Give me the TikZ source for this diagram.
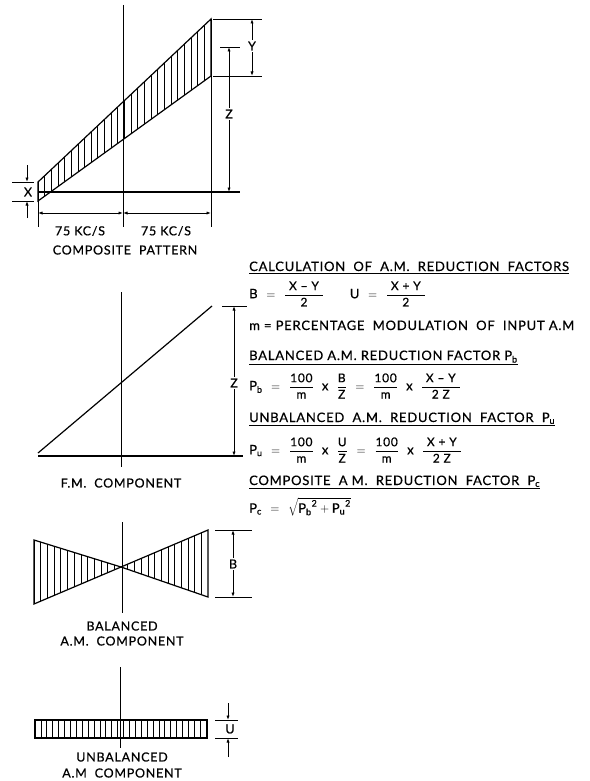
\documentclass[tikz,border=0pt]{standalone}
\usepackage{fontspec}
\setmainfont{Lato}[LetterSpace=6,FakeBold=0.6]
\usetikzlibrary{arrows.meta}
\newcommand\mytx[1]{\mbox{#1}}
\newcommand\myfr[1]{\mbox{\fontsize{12}{13}\selectfont #1}}
\newcommand\mysub[1]{\mbox{\fontsize{9}{10}\selectfont #1}}
\newcommand\myeq{\;\,=\;\,}
\newcommand\myx{\mytx{\ \ x\ \ }}
\begin{document}
\begin{tikzpicture}[x=1pt,y=-1pt,
  ln/.style={line width=1.2pt},
  hatch/.style={line width=0.75pt},
  dim/.style={line width=0.9pt},
  dimarr/.style={dim,{Latex[length=4.5pt,width=3.2pt]}-{Latex[length=4.5pt,width=3.2pt]}},
  endarr/.style={dim,-{Latex[length=4.5pt,width=3.2pt]}},
  lbl/.style={font=\fontsize{12.5}{14}\selectfont, inner sep=0.5pt},
  lblw/.style={lbl, fill=white, inner sep=1.5pt},
  txt/.style={font=\fontsize{13}{15}\selectfont, inner sep=0pt, anchor=base west},
  frm/.style={font=\fontsize{13}{15}\selectfont, inner sep=0pt, anchor=west},
  uline/.style={line width=0.9pt}]
\useasboundingbox (0,0) rectangle (589,781);

% ---------- composite pattern ----------
\coordinate (cUL) at (38,182);
\coordinate (cLL) at (38,201);
\coordinate (cUR) at (211,19);
\coordinate (cLR) at (211,76);
\begin{scope}
  \clip (cUL)--(cUR)--(cLR)--(cLL)--cycle;
  \foreach \x in {38,44.65,...,212} \draw[hatch] (\x,0)--(\x,250);
\end{scope}
\draw[ln] (cUL)--(cUR)--(cLR)--(cLL)--cycle;
\draw[dim] (123,5)--(123,227);
\draw[ln] (38,192)--(240,192);
\draw[dim] (cUR)--(211,227);
\draw[dim] (cLL)--(38,227);
\draw[dimarr] (38,213)--(123,213);
\draw[dimarr] (123,213)--(211,213);
% Y
\coordinate (yT) at (252,19); \coordinate (yB) at (252,76);
\draw[dim] (213,19)--(262,19);
\draw[dim] (213,76)--(262,76);
\draw[dimarr] (yT)--(yB);
\node[lblw] (Ylab) at (252,46) {Y};
% Z
\coordinate (zT) at (229,47); \coordinate (zB) at (229,192);
\draw[dim] (220,47)--(240,47);
\draw[dimarr] (zT)--(zB);
\node[lblw] (Zlab) at (229,114) {Z};
% X
\draw[dim] (12,182)--(34,182);
\draw[dim] (12,201)--(34,201);
\coordinate (xa1) at (27,165); \coordinate (xa2) at (27,182);
\coordinate (xb1) at (27,218); \coordinate (xb2) at (27,201);
\draw[endarr] (xa1)--(xa2);
\draw[endarr] (xb1)--(xb2);
\node[lbl] (Xlab) at (28,192) {X};
\node[lbl] (kc1) at (80,231) {75 KC/S};
\node[lbl] (kc2) at (166,231) {75 KC/S};
\node[lbl] (cpl) at (125,250) {COMPOSITE\ \ PATTERN};

% ---------- F.M. component ----------
\draw[ln] (38,453)--(212,306);
\draw[dim] (121,292)--(121,467);
\draw[ln] (38,456)--(243,456);
\draw[dim] (222,306)--(247,306);
\draw[dimarr] (234,306)--(234,456);
\node[lblw] (Z2lab) at (234,383) {Z};
\node[lbl] (fml) at (121,483) {F.M.\ \ COMPONENT};

% ---------- balanced A.M. component ----------
\coordinate (bC) at (121,567);
\begin{scope}
  \clip (34,540)--(bC)--(34,604)--cycle (208,530)--(bC)--(208,597)--cycle;
  \foreach \x in {34,40.7,...,209} \draw[hatch] (\x,520)--(\x,615);
\end{scope}
\draw[ln] (34,540)--(bC)--(34,604)--cycle;
\draw[ln] (208,530)--(bC)--(208,597)--cycle;
\draw[dim] (122,522)--(122,613);
\draw[dim] (215,530)--(252,530);
\draw[dim] (215,597)--(252,597);
\draw[dimarr] (233,530)--(233,597);
\node[lblw] (Blab) at (233,564) {B};
\node[lbl] (bal1) at (122,626) {BALANCED};
\node[lbl] (bal2) at (122,641) {A.M.\ \ COMPONENT};

% ---------- unbalanced A.M. component ----------
\begin{scope}
  \clip (35,720) rectangle (207,738);
  \foreach \x in {35,40.9,...,208} \draw[hatch] (\x,715)--(\x,745);
\end{scope}
\draw[ln] (35,720) rectangle (207,738);
\draw[dim] (120,667)--(120,748);
\draw[dim] (215,720)--(238,720);
\draw[dim] (215,738)--(238,738);
\draw[endarr] (228,703)--(228,720);
\draw[endarr] (228,757)--(228,738);
\node[lbl] (Ulab) at (230,729) {U};
\node[lbl] (ub1) at (122,757) {UNBALANCED};
\node[lbl] (ub2) at (122,773) {A.M\ \ COMPONENT};

% ---------- calculations ----------
\node[txt] (h1) at (249,271) {CALCULATION\ \ OF\ \ A.M.\ \ REDUCTION\ \ FACTORS};
\draw[uline] ([yshift=-2.5pt]h1.south west)--([yshift=-2.5pt]h1.south east);
\node[frm] (f1) at (249,294) {$\displaystyle\mytx{B}\myeq\frac{\myfr{\ X -- Y\ }}{\myfr{2}}\qquad\mytx{U}\myeq\frac{\myfr{\ X + Y\ }}{\myfr{2}}$};
\node[txt] (mdef) at (249,330) {m = PERCENTAGE\ \ MODULATION\ \ OF\ \ INPUT A.M};
\node[txt] (h2) at (249,360) {BALANCED A.M. REDUCTION FACTOR P\textsubscript{b}};
\draw[uline] ([yshift=-1.5pt]h2.south west)--([yshift=-1.5pt]h2.south east);
\node[frm] (f2) at (249,386) {$\displaystyle\mytx{P}_{\mysub{b}}\myeq\frac{\myfr{100}}{\myfr{m}}\myx\frac{\myfr{B}}{\myfr{Z}}\myeq\frac{\myfr{100}}{\myfr{m}}\myx\frac{\myfr{\ X -- Y\ }}{\myfr{2 Z}}$};
\node[txt] (h3) at (249,422) {UNBALANCED\ \ A.M.\ \ REDUCTION\ \ FACTOR\ \ P\textsubscript{u}};
\draw[uline] ([yshift=-1.5pt]h3.south west)--([yshift=-1.5pt]h3.south east);
\node[frm] (f3) at (249,450) {$\displaystyle\mytx{P}_{\mysub{u}}\myeq\frac{\myfr{100}}{\myfr{m}}\myx\frac{\myfr{U}}{\myfr{Z}}\myeq\frac{\myfr{100}}{\myfr{m}}\myx\frac{\myfr{\ X + Y\ }}{\myfr{2 Z}}$};
\node[txt] (h4) at (249,485) {COMPOSITE\ \ A M.\ \ REDUCTION\ \ FACTOR\ \ P\textsubscript{c}};
\draw[uline] ([yshift=-1.5pt]h4.south west)--([yshift=-1.5pt]h4.south east);
\node[frm] (f4) at (249,507) {$\mytx{P}_{\mysub{c}}\myeq\sqrt{{\mytx{P}_{\mysub{b}}}^{\mysub{2}} + {\mytx{P}_{\mysub{u}}}^{\mysub{2}}}$};
\end{tikzpicture}
\end{document}
